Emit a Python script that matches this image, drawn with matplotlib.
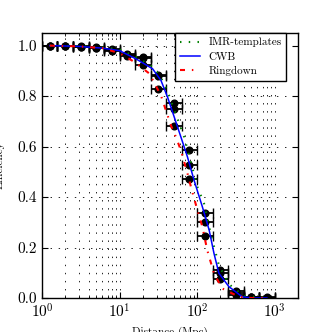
import numpy as np
import matplotlib
matplotlib.use("Agg")
import matplotlib.pyplot as plt

# ---- data ----
dist = [1.26, 2.0, 3.16, 5.01, 7.94, 12.6, 20.0, 31.6, 50.1, 79.4, 126, 200, 316, 501, 794]
bin_lo = [1.0, 1.58, 2.51, 3.98, 6.31, 10.0, 15.8, 25.1, 39.8, 63.1, 100, 158, 251, 398, 631]
bin_hi = [1.58, 2.51, 3.98, 6.31, 10.0, 15.8, 25.1, 39.8, 63.1, 100, 158, 251, 398, 631, 1000]

eff_imr_pts = [1.0, 1.0, 0.997, 0.993, 0.985, 0.968, 0.955, 0.883, 0.772, 0.587, 0.338, 0.112, 0.028, 0.004, 0.002]
eff_cwb_pts = [1.0, 1.0, 0.996, 0.992, 0.983, 0.962, 0.950, 0.878, 0.748, 0.527, 0.300, 0.100, 0.020, 0.003, 0.001]
eff_rd_pts = [1.0, 0.999, 0.995, 0.990, 0.978, 0.957, 0.925, 0.830, 0.680, 0.470, 0.245, 0.075, 0.012, 0.002, 0.0]

imr_d = [1.26, 3.0, 6.0, 10.0, 16.4, 27.0, 34.0, 42.0, 50.7, 58.8, 68.1, 101, 123, 149, 191, 257, 400, 794]
imr_e = [1.0, 0.998, 0.993, 0.985, 0.955, 0.915, 0.875, 0.815, 0.745, 0.692, 0.638, 0.440, 0.374, 0.257, 0.130, 0.055, 0.008, 0.0]

cwb_d = [1.26, 3.0, 6.0, 10.0, 16.4, 26.7, 34.2, 41.6, 50.7, 61.8, 75.1, 91.5, 117, 143, 165, 191, 257, 381, 507, 794]
cwb_e = [1.0, 0.997, 0.99, 0.98, 0.947, 0.908, 0.862, 0.796, 0.717, 0.638, 0.559, 0.466, 0.361, 0.269, 0.177, 0.098, 0.045, 0.005, 0.0, 0.0]

rd_d = [1.26, 3.0, 6.0, 10.0, 15.6, 24.3, 34.2, 46.0, 53.3, 61.8, 75.1, 85.5, 101, 117, 135, 165, 210, 345, 500, 794]
rd_e = [1.0, 0.997, 0.99, 0.97, 0.935, 0.889, 0.802, 0.684, 0.638, 0.585, 0.494, 0.427, 0.348, 0.282, 0.19, 0.098, 0.038, 0.005, 0.0, 0.0]

labels = ["IMR-templates", "CWB", "Ringdown"]

plt.rcParams.update({
    "font.family": ["cmr10", "DejaVu Serif"],
    "mathtext.fontset": "cm",
    "axes.formatter.use_mathtext": True,
    "axes.unicode_minus": False,
    "xtick.direction": "in",
    "ytick.direction": "in",
    "xtick.top": True,
    "ytick.right": True,
    "xtick.major.size": 4,
    "ytick.major.size": 4,
    "xtick.minor.size": 2,
    "ytick.minor.size": 2,
    "axes.linewidth": 1.0,
})

fig = plt.figure(figsize=(3.32, 3.32), dpi=100)
ax = fig.add_axes([0.1265, 0.1024, 0.7711, 0.7982])

d = np.array(dist)
xerr = [d - np.array(bin_lo), np.array(bin_hi) - d]
for eff in (eff_imr_pts, eff_cwb_pts, eff_rd_pts):
    ax.errorbar(dist, eff, xerr=xerr, fmt="o", color="black", ms=4.8,
                elinewidth=1.3, capsize=3.5, capthick=1.0, ecolor="black", zorder=3)

ax.plot(imr_d, imr_e, color="green", lw=1.5, linestyle=(0, (0.7, 3.5)),
        label=labels[0], zorder=4)
ax.plot(cwb_d, cwb_e, "-", color="blue", lw=1.1, label=labels[1], zorder=4)
ax.plot(rd_d, rd_e, color="red", lw=1.5, linestyle=(0, (2.4, 3.3, 0.7, 3.3)),
        label=labels[2], zorder=4)

ax.set_xscale("log")
ax.set_xlim(1, 2000)
ax.set_ylim(0, 1.05)
ax.set_yticks([0.0, 0.2, 0.4, 0.6, 0.8, 1.0])
ax.set_yticklabels(["0.0", "0.2", "0.4", "0.6", "0.8", "1.0"])
ax.tick_params(labelsize=11)
grid_ls = (0, (1.7, 8))
ax.grid(True, which="both", axis="x", color="black", linestyle=grid_ls, lw=0.6)
ax.grid(True, which="major", axis="y", color="black", linestyle=grid_ls, lw=0.6)

ax.set_xlabel("Distance (Mpc)", fontsize=8)
ax.set_ylabel("Efficiency", fontsize=8)
ax.xaxis.set_label_coords(0.5, -0.109)
ax.yaxis.set_label_coords(-0.145, 0.5)

leg = ax.legend(loc="upper right", bbox_to_anchor=(0.953, 1.0), fontsize=8,
                fancybox=False, framealpha=1, edgecolor="black",
                handlelength=1.8, borderaxespad=0.0, labelspacing=0.4)
leg.get_frame().set_linewidth(1.0)

fig.savefig("out.png", dpi=100, facecolor="white")
